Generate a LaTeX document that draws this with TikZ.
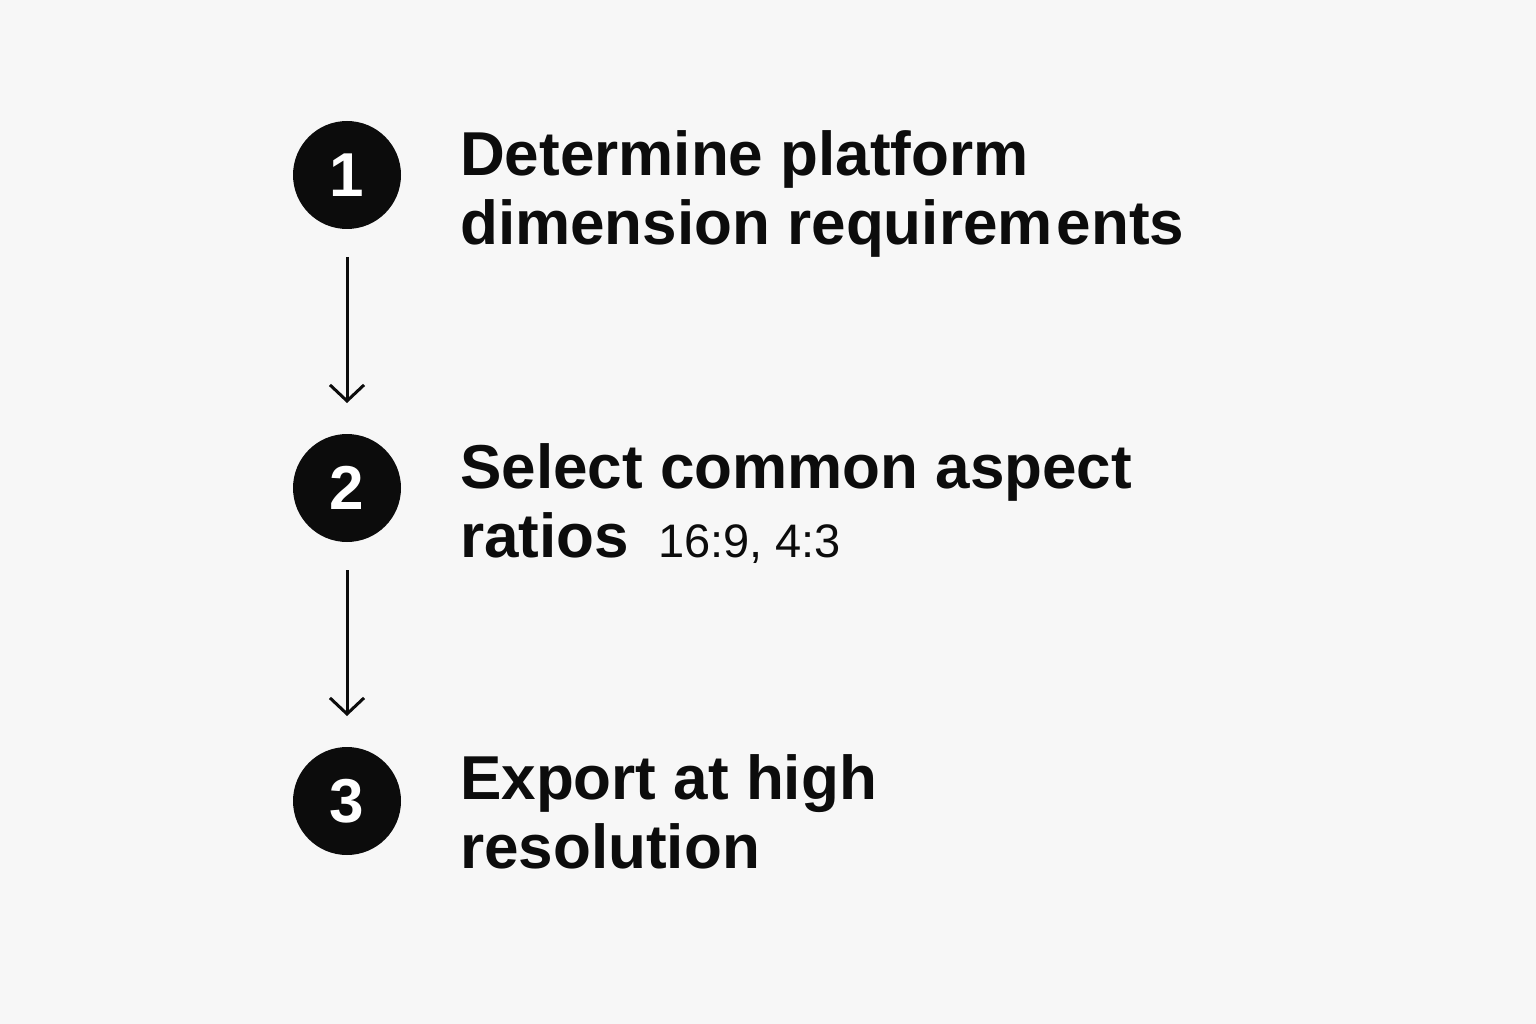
\documentclass[tikz,border=0pt]{standalone}
\usepackage{fontspec}
\setmainfont{Liberation Sans}
\usetikzlibrary{arrows.meta}
\definecolor{bg}{RGB}{247,247,247}
\definecolor{ink}{RGB}{12,12,12}
\begin{document}
\begin{tikzpicture}[x=1pt,y=-1pt,
  numcirc/.style={circle,fill=ink,minimum size=108pt,inner sep=0pt,text=white,font=\bfseries\fontsize{62}{62}\selectfont},
  steptext/.style={anchor=base west,inner sep=0pt,text=ink,font=\bfseries\fontsize{62}{70}\selectfont},
  smalltext/.style={anchor=base west,inner sep=0pt,text=ink,font=\fontsize{47}{47}\selectfont},
  flow/.style={draw=ink,line width=3pt,-{Straight Barb[length=16pt,width=34pt,line width=3pt]}}]
\fill[bg] (0,0) rectangle (1536,1024);
\useasboundingbox (0,0) rectangle (1536,1024);
\node[numcirc] (c1) at (347,175) {1};
\node[numcirc] (c2) at (347,488) {2};
\node[numcirc] (c3) at (347,801) {3};
\node[steptext] (t1a) at (460,176) {Determine platform};
\node[steptext] (t1b) at (460,245) {dimension requirem\hspace{4pt}ents};
\node[steptext] (t2a) at (460,488) {Select common aspect};
\node[steptext] (t2b) at (460,557) {ratios};
\node[smalltext] (t2c) at (658,557) {16:9, 4:3};
\node[steptext] (t3a) at (460,799) {Export at high};
\node[steptext] (t3b) at (460,868) {resolution};
\coordinate (a1s) at (347,257);
\coordinate (a1e) at (347,403);
\coordinate (a2s) at (347,570);
\coordinate (a2e) at (347,716);
\draw[flow] (a1s) -- (a1e);
\draw[flow] (a2s) -- (a2e);
\end{tikzpicture}
\end{document}
